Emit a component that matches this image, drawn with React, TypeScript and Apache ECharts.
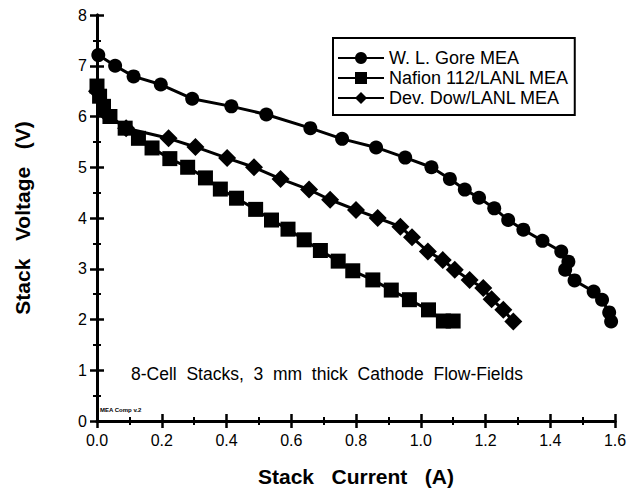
import React, { useEffect, useRef } from "react";
import * as echarts from "echarts";

const goreCurrent = [0.004, 0.056, 0.113, 0.197, 0.294, 0.415, 0.523, 0.659, 0.757, 0.862, 0.952, 1.033, 1.09, 1.136, 1.18, 1.227, 1.27, 1.317, 1.376, 1.434, 1.456, 1.446, 1.475, 1.534, 1.56, 1.582, 1.588];
const goreVoltage = [7.21, 7.0, 6.79, 6.63, 6.35, 6.2, 6.04, 5.77, 5.56, 5.39, 5.19, 5.0, 4.77, 4.56, 4.4, 4.19, 3.96, 3.77, 3.55, 3.34, 3.14, 2.98, 2.77, 2.55, 2.39, 2.14, 1.96];

const nafionCurrent = [0.0, 0.008, 0.02, 0.04, 0.087, 0.128, 0.17, 0.225, 0.28, 0.335, 0.381, 0.431, 0.49, 0.539, 0.59, 0.64, 0.69, 0.745, 0.79, 0.852, 0.909, 0.965, 1.024, 1.07, 1.1];
const nafionVoltage = [6.6, 6.4, 6.2, 6.0, 5.77, 5.57, 5.38, 5.17, 5.0, 4.79, 4.57, 4.39, 4.17, 3.96, 3.78, 3.57, 3.36, 3.15, 2.96, 2.78, 2.58, 2.39, 2.19, 1.97, 1.97];

const dowCurrent = [0.0, 0.03, 0.09, 0.221, 0.304, 0.402, 0.485, 0.567, 0.655, 0.72, 0.8, 0.867, 0.937, 0.973, 1.022, 1.068, 1.105, 1.151, 1.193, 1.219, 1.255, 1.286];
const dowVoltage = [6.5, 6.05, 5.77, 5.57, 5.4, 5.18, 5.0, 4.77, 4.56, 4.36, 4.16, 4.0, 3.83, 3.62, 3.34, 3.17, 2.98, 2.78, 2.62, 2.4, 2.19, 1.96];

const seriesNames = ["W. L. Gore MEA", "Nafion 112/LANL MEA", "Dev. Dow/LANL MEA"];
const xTitle = "Stack   Current   (A)";
const yTitle = "Stack   Voltage   (V)";
const annotation = "8-Cell  Stacks,  3  mm  thick  Cathode  Flow-Fields";
const stamp = "MEA Comp v.2";

const zip = (a: number[], b: number[]) => a.map((v, i) => [v, b[i]]);

export default function App() {
  const ref = useRef<HTMLDivElement>(null);
  useEffect(() => {
    if (!ref.current) return;
    const chart = echarts.init(ref.current, null, { renderer: "svg" });
    const font = "'Liberation Sans', Arial, sans-serif";
    const axisLine = { show: true, lineStyle: { color: "#000", width: 3 } };
    const tick = { show: true, inside: true, length: 7, lineStyle: { color: "#000", width: 2.5 } };
    const minor = { show: true, splitNumber: 2, length: 4, lineStyle: { color: "#000", width: 2 } };
    const baseSeries = (name: string, data: number[][], symbol: string, size: number) => ({
      name,
      type: "line",
      data,
      symbol,
      symbolSize: size,
      lineStyle: { color: "#000", width: 3 },
      itemStyle: { color: "#000" },
      xAxisIndex: 0,
      yAxisIndex: 0,
    });
    chart.setOption({
      animation: false,
      backgroundColor: "#fff",
      textStyle: { fontFamily: font },
      grid: { left: 97, right: 14, top: 15, bottom: 70, containLabel: false, outerBoundsMode: "none" },
      legend: {
        orient: "vertical",
        left: 333,
        top: 38,
        width: 255,
        itemWidth: 46,
        itemHeight: 15,
        itemGap: 2,
        padding: [11, 6, 8, 4],
        borderColor: "#000",
        borderWidth: 2,
        textStyle: { fontFamily: font, fontSize: 18, color: "#000" },
        data: seriesNames,
      },
      xAxis: [
        {
          type: "value",
          min: 0,
          max: 1.6,
          interval: 0.2,
          position: "bottom",
          axisLine,
          axisTick: tick,
          minorTick: minor,
          splitLine: { show: false },
          axisLabel: {
            color: "#000",
            fontSize: 16,
            margin: 11,
            formatter: (v: number) => v.toFixed(1),
          },
          name: xTitle,
          nameLocation: "middle",
          nameGap: 45,
          nameTextStyle: { fontSize: 21, fontWeight: "bold", color: "#000", fontFamily: font },
        },
        {
          type: "value",
          min: 0,
          max: 1.6,
          interval: 0.2,
          position: "top",
          axisLine,
          axisTick: tick,
          minorTick: minor,
          splitLine: { show: false },
          axisLabel: { show: false },
        },
      ],
      yAxis: [
        {
          type: "value",
          min: 0,
          max: 8,
          interval: 1,
          position: "left",
          axisLine,
          axisTick: tick,
          minorTick: minor,
          splitLine: { show: false },
          axisLabel: { color: "#000", fontSize: 16, margin: 10 },
          name: yTitle,
          nameLocation: "middle",
          nameGap: 64,
          nameRotate: 90,
          nameTextStyle: { fontSize: 21, fontWeight: "bold", color: "#000", fontFamily: font },
        },
        {
          type: "value",
          min: 0,
          max: 8,
          interval: 1,
          position: "right",
          axisLine,
          axisTick: tick,
          minorTick: minor,
          splitLine: { show: false },
          axisLabel: { show: false },
        },
      ],
      series: [
        baseSeries(seriesNames[0], zip(goreCurrent, goreVoltage), "circle", 14),
        baseSeries(seriesNames[1], zip(nafionCurrent, nafionVoltage), "rect", 15),
        baseSeries(seriesNames[2], zip(dowCurrent, dowVoltage), "path://M0,-1L1,0L0,1L-1,0Z", 18),
      ],
      graphic: [
        {
          type: "text",
          left: 131,
          top: 365,
          style: {
            text: annotation,
            fontSize: 17.5,
            fontFamily: font,
            fill: "#000",
          },
        },
        {
          type: "text",
          left: 100,
          top: 407,
          style: { text: stamp, fontSize: 6, fontWeight: "bold", fontFamily: font, fill: "#000" },
        },
      ],
    });
    return () => chart.dispose();
  }, []);
  return <div ref={ref} style={{ width: 629, height: 491, position: "absolute", left: 0, top: 0 }} />;
}
